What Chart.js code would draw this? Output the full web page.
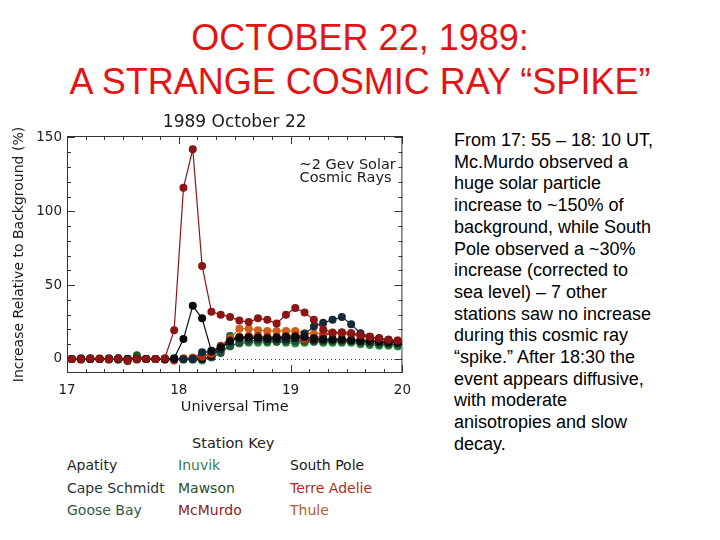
<!DOCTYPE html>
<html>
<head>
<meta charset="utf-8">
<script src="https://cdn.jsdelivr.net/npm/chart.js@4.4.1/dist/chart.umd.min.js"></script>
<style>
  html, body { margin: 0; padding: 0; background: #fff; }
  body { width: 720px; height: 540px; position: relative; overflow: hidden; font-family: "Liberation Sans", Arial, sans-serif; }
  .slide-title { position: absolute; left: 0; top: 16px; width: 720px; text-align: center; color: #e41414; font-size: 36px; line-height: 44px; }
  .notes { position: absolute; left: 454px; top: 130px; width: 240px; font-size: 18px; line-height: 21.7px; color: #000; }
  #plotBox { position: absolute; left: 10px; top: 112px; width: 410px; height: 305px; }
  .key { position: absolute; font-family: "DejaVu Sans", sans-serif; font-size: 14px; color: #222; white-space: nowrap; }
</style>
</head>
<body>
<div class="slide-title">OCTOBER 22, 1989:<br>A STRANGE COSMIC RAY “SPIKE”</div>

<div id="plotBox"><canvas id="c"></canvas></div>

<div class="key" style="left:192px; top:435px; font-size:14.5px;">Station Key</div>
<div id="stationKey"></div>

<div class="notes"> From 17: 55 – 18: 10 UT,<br>Mc.Murdo observed a<br>huge solar particle<br>increase to ~150% of<br>background, while South<br>Pole observed a ~30%<br>increase (corrected to<br>sea level) – 7 other<br>stations saw no increase<br>during this cosmic ray<br>“spike.” After 18:30 the<br>event appears diffusive,<br>with moderate<br>anisotropies and slow<br>decay.</div>

<script>
"use strict";

// minutes after 17:00 UT (5-minute bin centres)
const MINUTES = [2.5, 7.5, 12.5, 17.5, 22.5, 27.5, 32.5, 37.5, 42.5, 47.5, 52.5, 57.5,
  62.5, 67.5, 72.5, 77.5, 82.5, 87.5, 92.5, 97.5, 102.5, 107.5, 112.5, 117.5,
  122.5, 127.5, 132.5, 137.5, 142.5, 147.5, 152.5, 157.5, 162.5, 167.5, 172.5, 177.5];

const X_TICKS = [17, 18, 19, 20];
const Y_TICKS = [0, 50, 100, 150];

// increase relative to background (%)
const MCMURDO = [0, 0, 0.5, 0, 0, 0.5, -0.5, 0, 0, 0, 0.5,
  19.5, 116, 142, 63, 32, 30, 28.5, 26, 25, 27.5, 26.5, 24, 30, 34.5, 31.5, 26.5, 20, 18, 18, 17.5, 16, 15, 14, 13, 12.5];
const SOUTH_POLE = [0, 0, 0, 0, 0, 0.5, 0, 0, 0, 0, 0,
  0.5, 13.5, 36, 27.5, 5.5, 8, 12, 14.5, 14.5, 14.5, 14, 14.5, 15, 15, 15, 14, 13.5, 13.5, 13.5, 13, 13, 12.5, 12, 12, 11.5];
const CAPE_SCHMIDT = [0, 0.5, 0, 0, 0.5, 0, 0, 0, 0, 0, 0,
  0, 0, 0, 4.5, 5, 7, 12, 14, 14, 14, 13.5, 14, 14, 14.5, 17, 22, 24.5, 26.5, 28.5, 23.5, 17.5, 15, 14, 13, 12];
const THULE = [0, 0, 0, 0.5, 0, 0, 0, -0.5, 0, 0, 0,
  0, 0.5, 1, 2, 3.5, 8, 14, 20.5, 20.5, 19.5, 19, 19, 19, 19, 17.5, 17, 17.5, 17.5, 17, 16.5, 15.5, 15, 14, 13, 12.5];
const TERRE_ADELIE = [0, -0.5, 0, 0, -0.5, 0, -1, 0, 0, 0, -0.5,
  -1, 0, 0.5, 1.5, 4, 9, 13, 15, 15.5, 15.5, 15, 15, 15.5, 16, 13, 14, 16, 17.5, 18, 17.5, 16, 14, 13.5, 12.5, 12];
const APATITY = [0, 0, 0, 0, 0, 0, 0, 0, 0, 0, 0,
  0, 0, 0, 0, 2, 7, 13, 14.5, 14, 14, 13.5, 13.5, 13.5, 14, 13.5, 13, 13, 13, 13, 12.5, 12, 12, 11.5, 11, 11];
const INUVIK = [0, 0, 0.5, 0, 0, 0, 0, 1, 0, 0, 0,
  0, -0.5, -0.5, -1, 1.5, 6, 8.5, 10.5, 11, 11, 11, 11.5, 11, 10.5, 11, 11.5, 11, 11, 11, 11, 10, 9.5, 9, 9, 8.5];
const MAWSON = [0, 0, 0, 0, 0, 0, -1.5, 2.5, 0, 0, 0,
  0, 0, 0, 0, 2, 7.5, 15.5, 13, 12.5, 12.5, 12, 12, 12.5, 12.5, 12, 12.5, 12, 12, 12, 12, 11, 10.5, 10, 10, 9.5];
const GOOSE_BAY = [0, 0, 0, 0, 0, -0.5, 0, 0, 0, 0, 0,
  0, 0, 0, 0, 1, 4, 9, 11, 12, 12.5, 12.5, 12, 12, 12, 12.5, 12, 12, 12.5, 12, 12, 11.5, 11, 10.5, 10, 10];

// first in list = drawn on top
const STATIONS = [
  { name: "McMurdo", values: MCMURDO, color: "#8c1414", key: "#8a1c1c" },
  { name: "South Pole", values: SOUTH_POLE, color: "#0c0c10", key: "#1a1a1a" },
  { name: "Cape Schmidt", values: CAPE_SCHMIDT, color: "#16283a", key: "#2a3442" },
  { name: "Terre Adelie", values: TERRE_ADELIE, color: "#b52c12", key: "#a8301c" },
  { name: "Thule", values: THULE, color: "#d2601c", key: "#b0602a" },
  { name: "Apatity", values: APATITY, color: "#111111", key: "#1e1e1e" },
  { name: "Goose Bay", values: GOOSE_BAY, color: "#23503a", key: "#2e5a46" },
  { name: "Mawson", values: MAWSON, color: "#1a5e26", key: "#27502a" },
  { name: "Inuvik", values: INUVIK, color: "#2c9444", key: "#3c7c52" },
];

const KEY_LAYOUT = [
  ["Apatity", 67, 457], ["Cape Schmidt", 67, 480], ["Goose Bay", 67, 502],
  ["Inuvik", 178, 457], ["Mawson", 178, 480], ["McMurdo", 178, 502],
  ["South Pole", 290, 457], ["Terre Adelie", 290, 480], ["Thule", 290, 502],
];

const FONT = "'DejaVu Sans', sans-serif";
const INK = "#1c1c1c";

const keyBox = document.getElementById("stationKey");
for (const [name, left, top] of KEY_LAYOUT) {
  const s = STATIONS.find((x) => x.name === name);
  const d = document.createElement("div");
  d.className = "key";
  d.style.left = left + "px";
  d.style.top = top + "px";
  d.style.color = s.key;
  d.textContent = name;
  keyBox.appendChild(d);
}

// IDL-style frame: title over plot, box, inward ticks, dotted zero line, note
const idlFrame = {
  id: "idlFrame",
  beforeDatasetsDraw(chart) {
    const { ctx, chartArea: a, scales: { x, y } } = chart;
    ctx.save();
    ctx.fillStyle = INK;
    ctx.font = "17px " + FONT;
    ctx.textAlign = "center";
    ctx.textBaseline = "middle";
    ctx.fillText("1989 October 22", (a.left + a.right) / 2, 11);

    ctx.strokeStyle = "#333";
    ctx.lineWidth = 1;
    ctx.strokeRect(a.left + 0.5, a.top + 0.5, a.right - a.left - 1, a.bottom - a.top - 1);

    ctx.beginPath();
    for (let m = 0; m <= 180; m += 10) {
      const px = Math.round(x.getPixelForValue(17 + m / 60)) + 0.5;
      const len = m % 60 === 0 ? 8 : 4;
      ctx.moveTo(px, a.bottom); ctx.lineTo(px, a.bottom - len);
      ctx.moveTo(px, a.top); ctx.lineTo(px, a.top + len);
    }
    for (let v = 0; v <= 150; v += 10) {
      const py = Math.round(y.getPixelForValue(v)) + 0.5;
      const len = v % 50 === 0 ? 8 : 4;
      ctx.moveTo(a.left, py); ctx.lineTo(a.left + len, py);
      ctx.moveTo(a.right, py); ctx.lineTo(a.right - len, py);
    }
    ctx.stroke();

    ctx.setLineDash([1, 3]);
    ctx.strokeStyle = "#444";
    ctx.beginPath();
    const y0 = Math.round(y.getPixelForValue(0)) + 0.5;
    ctx.moveTo(x.getPixelForValue(17), y0);
    ctx.lineTo(x.getPixelForValue(20), y0);
    ctx.stroke();
    ctx.setLineDash([]);

    ctx.font = "14.5px " + FONT;
    ctx.textAlign = "left";
    const tx = x.getPixelForValue(19.08);
    ctx.fillText("~2 Gev Solar", tx, y.getPixelForValue(131.5));
    ctx.fillText("Cosmic Rays", tx, y.getPixelForValue(122.5));
    ctx.restore();
  },
};

const datasets = STATIONS.map((s) => ({
  label: s.name,
  data: MINUTES.map((m, i) => ({ x: 17 + m / 60, y: s.values[i] })),
  borderColor: s.color,
  backgroundColor: s.color,
  borderWidth: 1.2,
  pointRadius: 4,
  pointBorderWidth: 0,
  tension: 0,
}));

new Chart(document.getElementById("c"), {
  type: "line",
  data: { datasets },
  plugins: [idlFrame],
  options: {
    responsive: true,
    maintainAspectRatio: false,
    animation: false,
    layout: { padding: { left: 0, right: 4, top: 24, bottom: 0 } },
    plugins: {
      legend: { display: false },
      tooltip: { enabled: false },
      title: { display: false },
    },
    scales: {
      x: {
        type: "linear",
        min: 17,
        max: 20,
        afterFit: (s) => { s.height = 44; },
        afterBuildTicks: (s) => { s.ticks = X_TICKS.map((v) => ({ value: v })); },
        ticks: { color: INK, font: { family: FONT, size: 13.5 }, padding: 9, maxRotation: 0, callback: (v) => String(v) },
        grid: { display: false, drawTicks: false },
        border: { display: false },
        title: {
          display: true,
          text: "Universal Time",
          color: INK,
          font: { family: FONT, size: 14.5 },
          padding: { top: 0, bottom: 1 },
        },
      },
      y: {
        type: "linear",
        min: -9.5,
        max: 151,
        afterFit: (s) => { s.width = 57; },
        afterBuildTicks: (s) => { s.ticks = Y_TICKS.map((v) => ({ value: v })); },
        ticks: { color: INK, font: { family: FONT, size: 13.5 }, padding: 5, callback: (v) => String(v) },
        grid: { display: false, drawTicks: false },
        border: { display: false },
        title: {
          display: true,
          text: "Increase Relative to Background (%)",
          color: INK,
          font: { family: FONT, size: 14 },
          padding: { top: 1, bottom: 0 },
        },
      },
    },
  },
});
</script>
</body>
</html>
